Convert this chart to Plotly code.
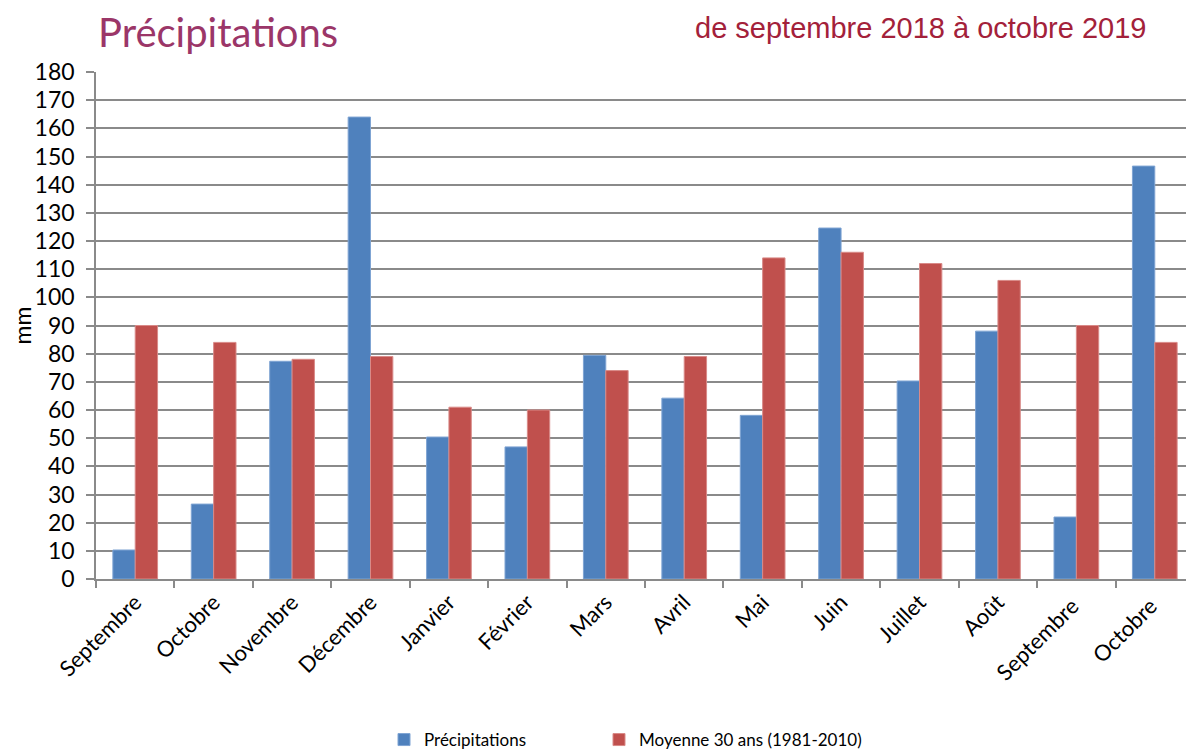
import plotly.graph_objects as go

mois = ['Septembre', 'Octobre', 'Novembre', 'Décembre', 'Janvier', 'Février', 'Mars',
        'Avril', 'Mai', 'Juin', 'Juillet', 'Août', 'Septembre ', 'Octobre ']
precipitations = [10.3, 26.6, 77.3, 164.0, 50.4, 46.9, 79.4, 64.2, 58.1, 124.6, 70.3, 88.0, 22.0, 146.6]
moyenne_30_ans = [90, 84, 78, 79, 61, 60, 74, 79, 114, 116, 112, 106, 90, 84]
y_ticks = list(range(0, 181, 10))

FONT = 'Lato'
GRID = '#8a8a8a'

# the page body keeps its 8px margin, so the figure is 8px smaller on each axis
W, H = 1186, 741
L, T, B = 88, 64, 170
PW, PH = W - L, H - T - B

fig = go.Figure()
fig.add_trace(go.Bar(
    x=mois, y=precipitations, name='Précipitations', legend='legend',
    marker=dict(color='#4F81BD', line=dict(color='#7fa4d3', width=1))
))
fig.add_trace(go.Bar(
    x=mois, y=moyenne_30_ans, name='Moyenne 30 ans (1981-2010)', legend='legend2',
    marker=dict(color='#C0504D', line=dict(color='#d98a88', width=1))
))

legend_common = dict(orientation='h', xref='paper', yref='paper', xanchor='left',
                     y=(T + PH - 732) / PH, yanchor='middle', itemwidth=30,
                     bgcolor='rgba(0,0,0,0)', font=dict(family=FONT, size=17))

fig.update_layout(
    width=W, height=H,
    margin=dict(l=L, r=0, t=T, b=B, autoexpand=False),
    paper_bgcolor='white', plot_bgcolor='white',
    barmode='group', bargap=0.43, bargroupgap=0,
    font=dict(family=FONT, color='black', size=20),
    title=dict(text='Précipitations', font=dict(family=FONT, size=40, color='#9B3668'),
               x=90 / W, xref='container', xanchor='left',
               y=1 - 25 / H, yref='container', yanchor='middle'),
    legend=dict(x=(376 - L) / PW, **legend_common),
    legend2=dict(x=(591 - L) / PW, **legend_common),
    showlegend=True,
)

fig.update_xaxes(
    automargin=False,
    tickangle=-45, tickson='boundaries', ticks='outside', ticklen=7,
    tickcolor=GRID, tickwidth=1.5, showgrid=False,
    showline=True, linecolor=GRID, linewidth=1.5,
    tickfont=dict(family=FONT, size=22),
)
fig.update_yaxes(
    automargin=False,
    range=[0, 180], tickvals=y_ticks, ticks='outside', ticklen=8,
    tickcolor=GRID, tickwidth=1.5, showgrid=True, gridcolor=GRID, gridwidth=1.5,
    showline=True, linecolor=GRID, linewidth=1.5, zeroline=False,
    ticklabelstandoff=7, tickfont=dict(family=FONT, size=23),
    title=dict(text='mm', standoff=10, font=dict(family=FONT, size=23)),
)

fig.add_annotation(
    text='de septembre 2018 à octobre 2019', showarrow=False,
    xref='paper', yref='paper', x=(1140 - L) / PW, xanchor='right',
    y=(T + PH - 20) / PH, yanchor='middle',
    font=dict(family='Liberation Sans', size=29, color='#A3213A'),
)

fig.write_html('out.html')
